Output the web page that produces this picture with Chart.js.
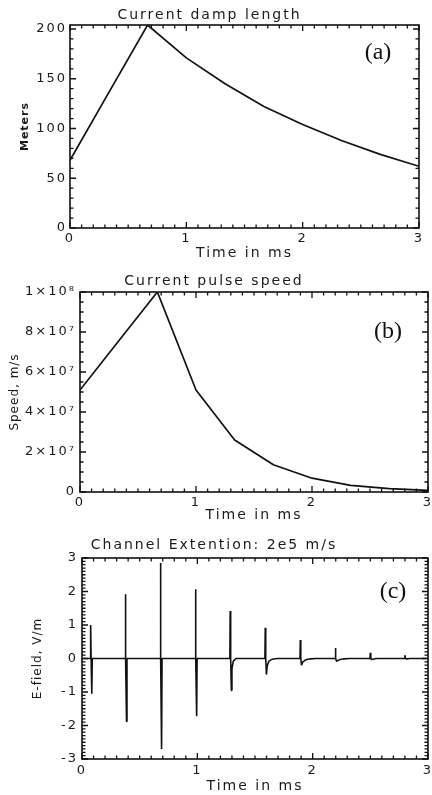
<!DOCTYPE html>
<html>
<head>
<meta charset="utf-8">
<script src="https://cdn.jsdelivr.net/npm/chart.js@4.4.0/dist/chart.umd.min.js"></script>
<style>
  html, body { margin: 0; padding: 0; background: #fff; }
  #wrap { position: relative; width: 432px; height: 795px; overflow: hidden; }
  canvas { position: absolute; left: 0; }
</style>
</head>
<body>
<div id="wrap">
  <canvas id="ca" width="432" height="262" style="top:0px"></canvas>
  <canvas id="cb" width="432" height="262" style="top:262px"></canvas>
  <canvas id="cc" width="432" height="271" style="top:524px"></canvas>
</div>
<script>
// (a) current damp length (m)
const timeA = [0, 0.333, 0.667, 1, 1.333, 1.667, 2, 2.333, 2.667, 3];
const dampLength = [68, 136, 204, 171, 145, 122, 104, 88, 74, 62];

// (b) current pulse speed (m/s)
const timeB = [0, 0.333, 0.667, 1, 1.333, 1.667, 2, 2.333, 2.667, 3];
const pulseSpeed = [5.1e7, 7.55e7, 1e8, 5.1e7, 2.6e7, 1.36e7, 0.69e7, 0.33e7, 0.17e7, 0.08e7];
const speedTickLabels = ['0', '2×10⁷', '4×10⁷', '6×10⁷', '8×10⁷', '1×10⁸'];

// (c) E-field (V/m), channel extension 2e5 m/s
const timeC = [
  0,
  0.072, 0.075, 0.079, 0.085, 0.089,
  0.373, 0.376, 0.380, 0.386, 0.390,
  0.677, 0.680, 0.684, 0.690, 0.694,
  0.981, 0.984, 0.988, 0.994, 0.998,
  1.282, 1.285, 1.289, 1.295, 1.300, 1.312, 1.335,
  1.586, 1.589, 1.593, 1.599, 1.606, 1.620, 1.650, 1.690,
  1.890, 1.893, 1.897, 1.903, 1.915, 1.940, 1.980, 2.030,
  2.194, 2.197, 2.201, 2.207, 2.230, 2.270, 2.320,
  2.497, 2.500, 2.504, 2.510, 2.550,
  2.797, 2.800, 2.804, 2.810, 2.850,
  3
];
const eField = [
  0,
  0, 1.0, 0, -1.05, 0,
  0, 1.92, 0, -1.88, 0,
  0, 2.85, 0, -2.7, 0,
  0, 2.07, 0, -1.72, 0,
  0, 1.42, 0, -0.95, -0.3, -0.08, 0,
  0, 0.92, 0, -0.48, -0.22, -0.08, -0.02, 0,
  0, 0.55, 0, -0.2, -0.1, -0.04, -0.01, 0,
  0, 0.31, 0, -0.08, -0.04, -0.01, 0,
  0, 0.17, 0, -0.03, 0,
  0, 0.10, 0, -0.01, 0,
  0
];

Chart.defaults.font.family = '"DejaVu Sans", sans-serif';
Chart.defaults.color = '#1a1a1a';

// IDL-like frame: box, inward ticks on all four sides, y title and panel tag
const idlBox = {
  id: 'idlBox',
  beforeUpdate(chart) { chart.ctx.letterSpacing = '2px'; },
  beforeDraw(chart) { chart.ctx.letterSpacing = '2px'; },
  afterDatasetsDraw(chart, args, o) {
    const ctx = chart.ctx;
    const a = chart.chartArea;
    const xs = chart.scales.x, ys = chart.scales.y;
    ctx.save();
    ctx.strokeStyle = '#111';
    ctx.lineWidth = 1.3;
    const marks = (scale, minor, major, horiz) => {
      const n = Math.floor((scale.max - scale.min) / minor + 1e-6);
      ctx.beginPath();
      for (let i = 0; i <= n; i++) {
        const v = scale.min + i * minor;
        const r = v / major;
        const len = Math.abs(r - Math.round(r)) < 1e-6 ? 6 : 3.5;
        const p = scale.getPixelForValue(v);
        if (horiz) {
          ctx.moveTo(p, a.bottom); ctx.lineTo(p, a.bottom - len);
          ctx.moveTo(p, a.top); ctx.lineTo(p, a.top + len);
        } else {
          ctx.moveTo(a.left, p); ctx.lineTo(a.left + len, p);
          ctx.moveTo(a.right, p); ctx.lineTo(a.right - len, p);
        }
      }
      ctx.stroke();
    };
    marks(xs, o.xMinor, o.xMajor, true);
    marks(ys, o.yMinor, o.yMajor, false);
    ctx.lineWidth = 1.6;
    ctx.strokeRect(a.left, a.top, a.right - a.left, a.bottom - a.top);

    ctx.fillStyle = '#111';
    ctx.letterSpacing = '0px';
    ctx.font = '24px "Liberation Serif", serif';
    ctx.textAlign = 'center';
    ctx.textBaseline = 'middle';
    ctx.fillText(o.tag, a.right - o.tagDx, a.top + o.tagDy);

    ctx.fillStyle = '#1a1a1a';
    ctx.letterSpacing = '1px';
    ctx.font = o.yTitleFont;
    ctx.translate(o.yTitleX, (a.top + a.bottom) / 2);
    ctx.rotate(-Math.PI / 2);
    ctx.fillText(o.yTitle, 0, 0);
    ctx.restore();
  }
};

function panel(id, p) {
  return new Chart(document.getElementById(id), {
    type: 'scatter',
    data: {
      datasets: [{
        data: p.xs.map((t, i) => ({ x: t, y: p.ys[i] })),
        showLine: true,
        borderColor: '#111',
        borderWidth: p.lineWidth,
        borderJoinStyle: 'bevel',
        pointRadius: 0,
        tension: 0
      }]
    },
    options: {
      responsive: false,
      animation: false,
      events: [],
      layout: { padding: { left: 0, right: p.padRight, top: 0, bottom: 0 } },
      plugins: {
        legend: { display: false },
        tooltip: { enabled: false },
        title: {
          display: true,
          text: p.title,
          font: { size: 14, weight: 'normal' },
          padding: { top: p.titleTop, bottom: p.titleBottom }
        },
        idlBox: p.frame
      },
      scales: {
        x: {
          type: 'linear',
          min: 0, max: 3,
          ticks: { stepSize: 1, padding: p.xTickPad, font: { size: 13 } },
          grid: { display: false, drawTicks: false },
          border: { display: false },
          title: { display: true, text: 'Time in ms', font: { size: 14 }, padding: 0 },
          afterFit(s) { s.height = p.xHeight; s.paddingLeft = 0; s.paddingRight = 0; }
        },
        y: {
          min: p.yMin, max: p.yMax,
          ticks: {
            stepSize: p.yStep, padding: p.yTickPad, includeBounds: false,
            font: { size: 13 },
            callback: p.yLabels ? (v, i) => p.yLabels[i] : (v) => String(v)
          },
          grid: { display: false, drawTicks: false },
          border: { display: false },
          afterFit(s) { s.width = p.yWidth; s.paddingTop = 0; s.paddingBottom = 0; }
        }
      }
    },
    plugins: [idlBox]
  });
}

panel('ca', {
  xs: timeA, ys: dampLength, lineWidth: 1.7,
  title: 'Current damp length', titleTop: 6.6, titleBottom: 1.6,
  padRight: 13, xHeight: 34, xTickPad: 3, yWidth: 70, yTickPad: 3,
  yMin: 0, yMax: 204, yStep: 50,
  frame: { xMinor: 0.1, xMajor: 1, yMinor: 10, yMajor: 50, tag: '(a)', tagDx: 41, tagDy: 28,
           yTitle: 'Meters', yTitleX: 25, yTitleFont: 'bold 11px "DejaVu Sans", sans-serif' }
});

panel('cb', {
  xs: timeB, ys: pulseSpeed, lineWidth: 1.7, yLabels: speedTickLabels,
  title: 'Current pulse speed', titleTop: 10.6, titleBottom: 2.6,
  padRight: 4, xHeight: 32, xTickPad: 3, yWidth: 80, yTickPad: 4,
  yMin: 0, yMax: 1e8, yStep: 2e7,
  frame: { xMinor: 0.1, xMajor: 1, yMinor: 5e6, yMajor: 2e7, tag: '(b)', tagDx: 40, tagDy: 40,
           yTitle: 'Speed, m/s', yTitleX: 15, yTitleFont: '12px "DejaVu Sans", sans-serif' }
});

panel('cc', {
  xs: timeC, ys: eField, lineWidth: 1.6,
  title: 'Channel Extention: 2e5 m/s', titleTop: 12.6, titleBottom: 4.6,
  padRight: 4, xHeight: 36, xTickPad: 4, yWidth: 82, yTickPad: 4,
  yMin: -3, yMax: 3, yStep: 1,
  frame: { xMinor: 0.1, xMajor: 1, yMinor: 0.1, yMajor: 1, tag: '(c)', tagDx: 35, tagDy: 34,
           yTitle: 'E-field, V/m', yTitleX: 38, yTitleFont: '12px "DejaVu Sans", sans-serif' }
});
</script>
</body>
</html>
